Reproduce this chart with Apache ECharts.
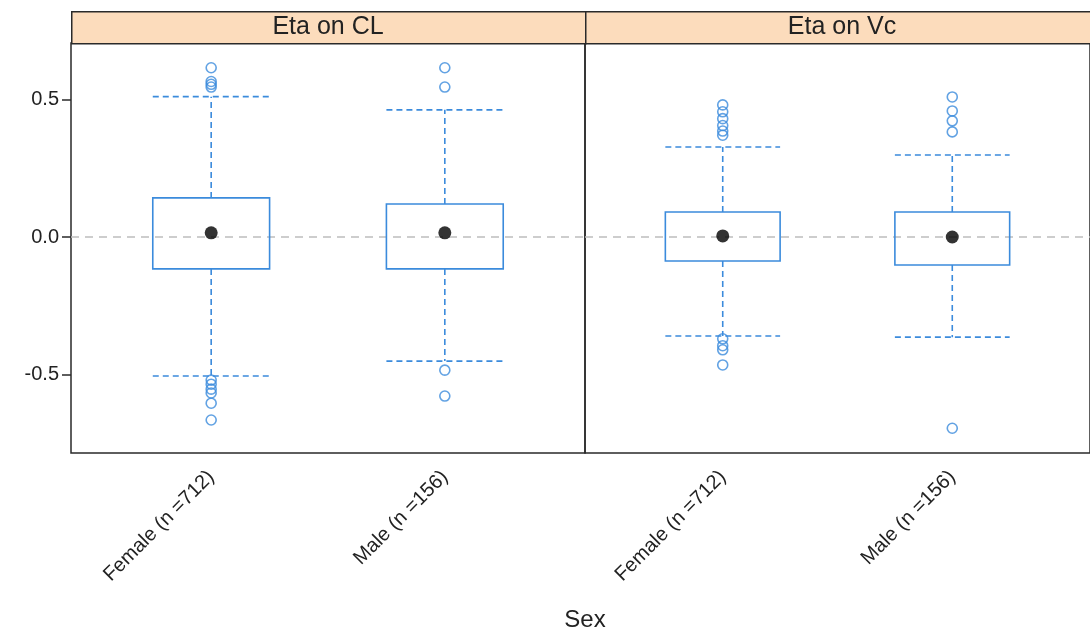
<!DOCTYPE html>
<html>
<head>
<meta charset="utf-8">
<script src="https://cdn.jsdelivr.net/npm/echarts@6/dist/echarts.min.js"></script>
<style>html,body{margin:0;padding:0;background:#fff;}#c{width:1090px;height:637px;}</style>
</head>
<body>
<div id="c"></div>
<script>
// ---- data ----
const categories = ['Female (n =712)', 'Male (n =156)'];
const panelTitles = ['Eta on CL', 'Eta on Vc'];
const xTitle = 'Sex';
const yTickValues = [-0.5, 0, 0.5];
const yTickLabels = ['-0.5', '0.0', '0.5'];
// [lowerWhisker, Q1, median, Q3, upperWhisker] per category
const clStats = [
  [-0.505, -0.116, 0.015, 0.142, 0.51],
  [-0.451, -0.116, 0.015, 0.12, 0.462]
];
const vcStats = [
  [-0.36, -0.087, 0.004, 0.091, 0.327],
  [-0.364, -0.102, 0.0, 0.091, 0.298]
];
const clOutliers = [
  [0.615, 0.565, 0.555, 0.545, -0.52, -0.535, -0.553, -0.567, -0.604, -0.665],
  [0.615, 0.545, -0.484, -0.578]
];
const vcOutliers = [
  [0.48, 0.455, 0.43, 0.405, 0.385, 0.37, -0.37, -0.395, -0.41, -0.465],
  [0.509, 0.458, 0.422, 0.382, -0.695]
];
const refValue = 0;

// ---- style / layout ----
const FONT = "'Liberation Sans', Arial, sans-serif";
const BLUE = '#3b8bdc';
const FRAME = '#2a2a2a';
const STRIP = '#fcdcbc';
const BOX_HALF = 0.25;
const panelLeft = [71, 585];
const panelW = 514, panelTop = 43, panelH = 410;
const stripTop = 11, stripH = 32;

const allStats = [clStats, vcStats];
const allOutliers = [clOutliers, vcOutliers];

function renderBox(params, api) {
  const x = api.value(0);
  const lo = api.value(1), q1 = api.value(2), q3 = api.value(4), hi = api.value(5);
  const pTL = api.coord([x - BOX_HALF, q3]);
  const pBR = api.coord([x + BOX_HALF, q1]);
  const pHi = api.coord([x, hi]);
  const pLo = api.coord([x, lo]);
  const cx = api.coord([x, q3])[0];
  const dash = {stroke: BLUE, lineWidth: 1.6, lineDash: [6, 4], fill: null};
  return {
    type: 'group',
    children: [
      {type: 'line', shape: {x1: cx, y1: pTL[1], x2: cx, y2: pHi[1]}, style: dash},
      {type: 'line', shape: {x1: pTL[0], y1: pHi[1], x2: pBR[0], y2: pHi[1]}, style: dash},
      {type: 'line', shape: {x1: cx, y1: pBR[1], x2: cx, y2: pLo[1]}, style: dash},
      {type: 'line', shape: {x1: pTL[0], y1: pLo[1], x2: pBR[0], y2: pLo[1]}, style: dash},
      {type: 'rect', shape: {x: pTL[0], y: pTL[1], width: pBR[0] - pTL[0], height: pBR[1] - pTL[1]},
        style: {stroke: BLUE, lineWidth: 1.6, fill: null}}
    ]
  };
}

const grids = [], xAxes = [], yAxes = [], series = [], graphics = [];
for (let p = 0; p < 2; p++) {
  grids.push({left: panelLeft[p], top: panelTop, width: panelW, height: panelH,
    show: true, borderColor: FRAME, borderWidth: 1.5, backgroundColor: 'transparent'});
  xAxes.push({
    type: 'value', gridIndex: p, min: 0.4, max: 2.6,
    axisLine: {show: false}, splitLine: {show: false}, axisTick: {show: false},
    axisLabel: {
      customValues: [1, 2], rotate: 45, margin: 21,
      fontFamily: FONT, fontSize: 20, color: '#222',
      formatter: v => categories[Math.round(v) - 1] || ''
    }
  });
  yAxes.push({
    type: 'value', gridIndex: p, min: -0.785, max: 0.705,
    show: p === 0,
    axisLine: {show: false}, splitLine: {show: false},
    axisTick: {show: true, customValues: yTickValues, length: 9, lineStyle: {color: FRAME, width: 1.5}},
    axisLabel: {
      customValues: yTickValues, margin: 12,
      fontFamily: FONT, fontSize: 20, color: '#222',
      formatter: v => {
        const i = yTickValues.findIndex(t => Math.abs(t - v) < 1e-9);
        return i >= 0 ? yTickLabels[i] : '';
      }
    }
  });
  const stats = allStats[p];
  // reference line
  series.push({
    type: 'scatter', xAxisIndex: p, yAxisIndex: p, data: [], silent: true, z: 1,
    markLine: {
      silent: true, symbol: 'none', animation: false, label: {show: false}, z: 1,
      lineStyle: {color: '#bdbdbd', type: [8, 6], width: 1.5},
      data: [{yAxis: refValue}]
    }
  });
  series.push({
    type: 'custom', xAxisIndex: p, yAxisIndex: p, z: 2,
    renderItem: renderBox,
    encode: {x: 0, y: [1, 2, 3, 4, 5]},
    data: stats.map((s, i) => [i + 1].concat(s))
  });
  const outPts = [];
  allOutliers[p].forEach((arr, i) => arr.forEach(v => outPts.push([i + 1, v])));
  series.push({
    type: 'scatter', xAxisIndex: p, yAxisIndex: p, z: 3,
    symbol: 'circle', symbolSize: 10,
    itemStyle: {color: 'rgba(0,0,0,0)', borderColor: BLUE, borderWidth: 1.6},
    data: outPts
  });
  series.push({
    type: 'scatter', xAxisIndex: p, yAxisIndex: p, z: 6,
    symbol: 'circle', symbolSize: 13,
    itemStyle: {color: '#000'},
    data: stats.map((s, i) => [i + 1, s[2]])
  });
  graphics.push({
    type: 'rect', left: panelLeft[p], top: stripTop,
    shape: {width: panelW, height: stripH},
    style: {fill: STRIP, stroke: FRAME, lineWidth: 1.5}
  });
  graphics.push({
    type: 'text', x: panelLeft[p] + panelW / 2, y: stripTop + stripH / 2,
    style: {text: panelTitles[p], fontFamily: FONT, fontSize: 25, fill: '#222',
      textAlign: 'center', textVerticalAlign: 'middle'}
  });
}
graphics.push({
  type: 'text', x: panelLeft[0] + panelW, y: 620,
  style: {text: xTitle, fontFamily: FONT, fontSize: 24, fill: '#222',
    textAlign: 'center', textVerticalAlign: 'middle'}
});

const chart = echarts.init(document.getElementById('c'), null, {renderer: 'canvas'});
chart.setOption({
  animation: false,
  backgroundColor: '#fff',
  grid: grids, xAxis: xAxes, yAxis: yAxes, series: series,
  graphic: graphics
});
</script>
</body>
</html>
